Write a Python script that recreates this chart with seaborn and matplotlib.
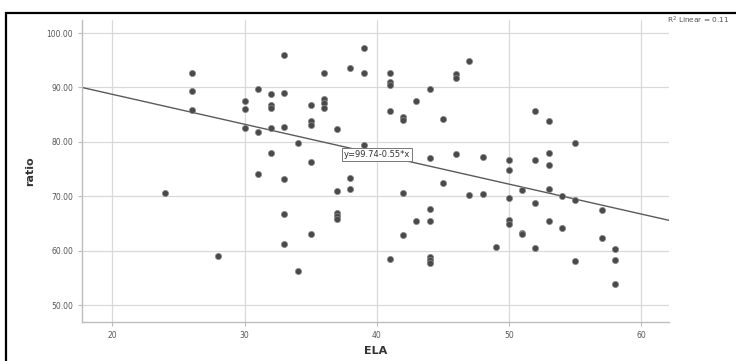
import matplotlib
matplotlib.use("Agg")
import matplotlib.pyplot as plt
from matplotlib.patches import Rectangle
import seaborn as sns
import pandas as pd
import numpy as np

# ELA (age) groups and the ratio values
ela_26 = [92.7, 89.4, 85.9]
ela = (
    [24] + [26] * 3 + [28] + [30] * 3 + [31] * 3 + [32] * 5 + [33] * 6 + [34] * 2
    + [35] * 5 + [36] * 4 + [37] * 5 + [38] * 3 + [39] * 3 + [41] * 5 + [42] * 4
    + [43] * 2 + [44] * 7 + [45] * 2 + [46] * 3 + [47] * 2 + [48] * 2 + [49]
    + [50] * 5 + [51] * 3 + [52] * 4 + [53] * 5 + [54] * 2 + [55] * 3 + [57] * 2
    + [58] * 3
)
ratio = (
    [70.6] + ela_26 + [59.0]
    + [87.5, 86.1, 82.5]
    + [89.7, 81.8, 74.1]
    + [88.8, 86.7, 86.3, 82.5, 78.0]
    + [95.9, 88.9, 82.8, 73.1, 66.7, 61.2]
    + [79.8, 56.3]
    + [86.7, 83.9, 83.1, 76.3, 63.1]
    + [92.7, 87.9, 87.2, 86.3]
    + [82.3, 70.9, 67.0, 66.4, 65.9]
    + [93.5, 73.4, 71.4]
    + [97.2, 92.7, 79.4]
    + [92.7, 91.0, 90.5, 85.7, 58.4]
    + [84.6, 84.0, 70.7, 62.8]
    + [87.5, 65.5]
    + [89.7, 77.1, 67.7, 65.5, 58.9, 58.3, 57.8]
    + [84.2, 72.4]
    + [92.4, 91.8, 77.7]
    + [94.9, 70.2]
    + [77.2, 70.5]
    + [60.7]
    + [76.6, 74.9, 69.6, 65.6, 64.9]
    + [71.1, 63.3, 63.1]
    + [85.7, 76.6, 68.8, 60.5]
    + [83.8, 78.0, 75.7, 71.4, 65.5]
    + [70.0, 64.1]
    + [79.8, 69.3, 58.2]
    + [67.5, 62.3]
    + [60.4, 58.3, 53.9]
)

intercept = 99.74
slope = -0.55
fit_label = "y=99.74-0.55*x"
r2_label = "R$^2$ Linear = 0.11"
y_ticks = [50, 60, 70, 80, 90, 100]
x_ticks = [20, 30, 40, 50, 60]

df = pd.DataFrame({"ELA": ela, "ratio": ratio})

sns.set_style("white")
fig = plt.figure(figsize=(7.36, 3.61), dpi=100)
ax = fig.add_axes([0.1114, 0.108, 0.7976, 0.8366])

grid_c = "#d9d9d9"
for t in y_ticks:
    ax.axhline(t, color=grid_c, lw=0.9, zorder=0)
for t in x_ticks:
    ax.axvline(t, color=grid_c, lw=0.9, zorder=0)

sns.scatterplot(data=df, x="ELA", y="ratio", ax=ax, s=20, color="#4a4a4a",
                edgecolor="#8a8a8a", linewidth=0.5, zorder=3)

# fit line
ax.axline((0, intercept), slope=slope, color="#5a5a5a", lw=1.0, zorder=2)
ax.text(40, intercept + slope * 40, fit_label, fontsize=6, color="#333333",
        ha="center", va="center", zorder=4,
        bbox=dict(boxstyle="square,pad=0.25", fc="white", ec="#777777", lw=0.7))

ax.set_xlim(17.7, 62.1)
ax.set_ylim(46.9, 102.4)
ax.set_xticks(x_ticks)
ax.set_yticks(y_ticks)
ax.set_yticklabels([f"{t:.2f}" for t in y_ticks])
ax.tick_params(axis="both", labelsize=5.5, labelcolor="#555555", color="#bbbbbb",
               length=3, width=0.8, direction="out", left=True, bottom=True)

for side in ["top", "right"]:
    ax.spines[side].set_visible(False)
for side in ["left", "bottom"]:
    ax.spines[side].set_color("#bdbdbd")
    ax.spines[side].set_linewidth(1.0)

ax.set_xlabel("ELA", fontsize=8, fontweight="bold", color="#333333", labelpad=4)
ax.set_ylabel("ratio", fontsize=8, fontweight="bold", color="#333333", labelpad=8)

fig.text(667 / 736, 1 - 20 / 361, r2_label, fontsize=5.3, color="#555555",
         ha="left", va="center")

# outer chart frame (cut off on the right and bottom)
fig.patches.append(Rectangle((6 / 736, -0.05), 1.1, 1 - 13 / 361 + 0.05,
                             transform=fig.transFigure, fill=False,
                             ec="black", lw=1.6, clip_on=False))

fig.savefig("out.png", dpi=100)
